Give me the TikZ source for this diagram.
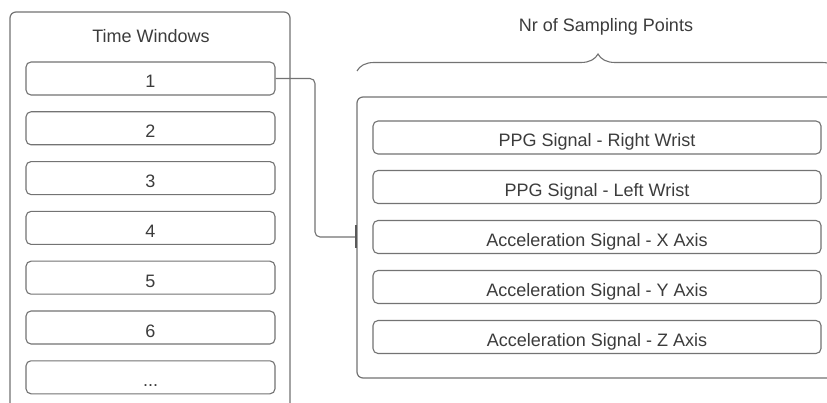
\documentclass[tikz,border=0pt]{standalone}
\usepackage{fontspec}
\setmainfont{Liberation Sans}
\usetikzlibrary{arrows.meta,decorations.pathreplacing}
\definecolor{edge}{RGB}{115,115,115}
\definecolor{ink}{RGB}{60,60,60}
\tikzset{
  frame/.style={draw=edge, line width=1.2pt, rounded corners=6pt},
  slot/.style={draw=edge, line width=1.1pt, rounded corners=5pt, fill=white,
    minimum height=33pt, inner sep=0pt, text=ink, text height=19pt, text depth=0pt,
    font=\fontsize{18}{20}\selectfont},
  winbox/.style={slot, minimum width=249pt},
  sigbox/.style={slot, minimum width=448pt},
  caption/.style={text=ink, font=\fontsize{18}{20}\selectfont, inner sep=0pt},
  conn/.style={draw=edge, line width=1.1pt, rounded corners=5pt},
}
\begin{document}
\begin{tikzpicture}[x=1pt, y=-1pt]
\useasboundingbox[fill=white] (0,0) rectangle (827,403);

% time-window column
\draw[frame] (10,410) -- (10,12) -- (290,12) -- (290,410);
\node[caption] (twtitle) at (151,36) {Time Windows};
\foreach \i in {1,...,6} {
  \node[winbox] (w\i) at (150.5,{78.5+49.8*(\i-1)}) {\i};
}
\node[winbox] (w7) at (150.5,377.3) {...};

% signal channels
\draw[frame] (840,97) -- (357,97) -- (357,378) -- (840,378);
\node[sigbox] (s1) at (597,137.5) {PPG Signal - Right Wrist};
\node[sigbox] (s2) at (597,187) {PPG Signal - Left Wrist};
\node[sigbox] (s3) at (597,237) {Acceleration Signal - X Axis};
\node[sigbox] (s4) at (597,287) {Acceleration Signal - Y Axis};
\node[sigbox] (s5) at (597,337) {Acceleration Signal - Z Axis};

% brace with the sampling label
\coordinate (bl) at (357,71);
\coordinate (br) at (839,71);
\draw[draw=edge, line width=1.1pt,
      decoration={brace, amplitude=17pt, aspect=0.5}, decorate] (bl) -- (br);
\node[caption] (nrlabel) at (606,27) {Nr of Sampling Points};

% link from the first window into the channel block
\coordinate (inlet) at (357,237);
\draw[conn, -{Bar[width=23pt, line width=1.8pt, color=ink!85]}] (w1.east) -- (315,78.5) -- (315,237) -- (inlet);
\end{tikzpicture}
\end{document}
